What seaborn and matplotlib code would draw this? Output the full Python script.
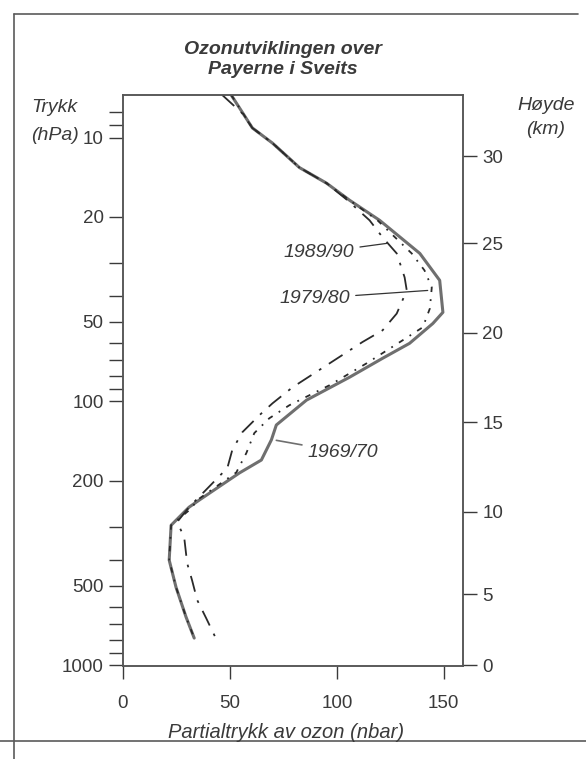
import numpy as np
import pandas as pd
import matplotlib
matplotlib.use("Agg")
import matplotlib.pyplot as plt
import matplotlib.ticker as mticker
from matplotlib.lines import Line2D
import seaborn as sns

# ----------------------------
# Data (pressure hPa, ozone partial pressure nbar)
# ----------------------------
p_1969 = [6.9, 9.2, 10.5, 13.0, 14.9, 17.3, 20.6, 27.5, 34.8, 46, 50.7, 60.3, 68.7, 81,
          99, 123, 140, 167, 187, 237, 252, 295, 400, 507, 658, 790]
o3_1969 = [50.6, 60.5, 69.9, 82.5, 95.2, 106, 120, 138.8, 148.1, 149.6, 144.9, 134, 121.4, 106,
           85.8, 71.7, 69.4, 64.7, 54.4, 35.6, 30.9, 22.5, 21.6, 24.8, 29.5, 33.3]

p_1979 = [6.9, 9.2, 10.5, 13.0, 14.9, 17.3, 20.6, 27.5, 31.9, 37, 44.5, 52.4, 58.7, 71.8,
          86.9, 103.5, 116, 132, 157, 186, 234, 259, 295, 400, 507, 658, 790]
o3_1979 = [50.6, 60.5, 69.9, 82.5, 95.2, 106, 119, 135, 141, 144.4, 143.5, 140.2, 130.8, 113.9,
           96.6, 77.8, 68.4, 61.4, 57.7, 53, 35.6, 30.9, 22.5, 21.6, 24.8, 29.5, 33.3]

p_1989 = [6.9, 8.1, 9.2, 10.5, 13.0, 14.9, 17.3, 20.6, 23.9, 27.5, 33.9, 38, 46.5, 53.8, 59.6,
          71.8, 88.6, 101.8, 112.9, 131, 153, 179, 205, 252, 287, 327, 411, 477, 567, 664, 797]
o3_1989 = [46.4, 55.8, 60.5, 69.9, 82.5, 95.2, 105, 115.3, 121.4, 128, 131.7, 132.7, 128, 121.4, 112,
           96.6, 79.2, 69.9, 63.8, 55.8, 51.1, 48.8, 41.7, 30.9, 25.3, 28.6, 30, 32.3, 34.7, 38.9, 43.6]

p_ticks = [10, 20, 50, 100, 200, 500, 1000]
p_minor = [8, 9, 30, 40, 60, 70, 80, 90, 300, 400, 600, 700, 800, 900]
km_labels = [0, 5, 10, 15, 20, 25, 30]
km_pressure = [1000, 540, 262, 120, 55, 25.2, 11.8]
x_ticks = [0, 50, 100, 150]

# ----------------------------
# Style
# ----------------------------
sns.set_style("ticks")
plt.rcParams['font.family'] = ['Liberation Sans', 'DejaVu Sans']
ink = "#3a3a3a"
plt.rcParams['text.color'] = ink
plt.rcParams['xtick.color'] = ink
plt.rcParams['ytick.color'] = ink
plt.rcParams['axes.edgecolor'] = "#555555"

W, H = 586, 759
fig = plt.figure(figsize=(W / 100, H / 100), dpi=100)
fig.patch.set_facecolor("white")

def fx(px):
    return px / W

def fy(py):
    return 1 - py / H

ax = fig.add_axes([fx(123), fy(666), fx(463) - fx(123), fy(95) - fy(666)])

df69 = pd.DataFrame({"o3": o3_1969, "p": p_1969})
df79 = pd.DataFrame({"o3": o3_1979, "p": p_1979})
df89 = pd.DataFrame({"o3": o3_1989, "p": p_1989})

sns.lineplot(data=df69, x="o3", y="p", sort=False, estimator=None, ax=ax,
             color="#6f6f6f", lw=2.2)
sns.lineplot(data=df79, x="o3", y="p", sort=False, estimator=None, ax=ax,
             color="#2a2a2a", lw=1.3, linestyle=(0, (3, 4, 1, 4)))
sns.lineplot(data=df89, x="o3", y="p", sort=False, estimator=None, ax=ax,
             color="#2a2a2a", lw=1.3, linestyle=(0, (9, 5, 1.5, 5)))

ax.set_yscale("log")
ax.set_ylim(1008, 6.9)
ax.set_xlim(0, 159)
ax.yaxis.set_major_locator(mticker.FixedLocator(p_ticks))
ax.yaxis.set_major_formatter(mticker.FixedFormatter([str(v) for v in p_ticks]))
ax.yaxis.set_minor_locator(mticker.FixedLocator(p_minor))
ax.yaxis.set_minor_formatter(mticker.NullFormatter())
ax.set_xticks(x_ticks)
ax.set_xticklabels([str(v) for v in x_ticks])
ax.set_xlabel("")
ax.set_ylabel("")
ax.tick_params(axis="y", which="both", length=10, width=1, direction="out", pad=4, labelsize=13.5)
ax.tick_params(axis="x", length=9, width=1, direction="out", pad=12, labelsize=13.5)
for s in ax.spines.values():
    s.set_linewidth(1.1)

ax2 = ax.twinx()
ax2.set_yscale("log")
ax2.set_ylim(ax.get_ylim())
ax2.yaxis.set_major_locator(mticker.FixedLocator(km_pressure))
ax2.yaxis.set_major_formatter(mticker.FixedFormatter([str(v) for v in km_labels]))
ax2.yaxis.set_minor_locator(mticker.NullLocator())
ax2.tick_params(axis="y", length=10, width=1, direction="out", pad=4, labelsize=13.5)
for s in ax2.spines.values():
    s.set_linewidth(1.1)

# curve labels
lab = dict(fontsize=14, style="italic", va="center")
arr = dict(arrowstyle="-", color="#333333", lw=0.9, shrinkA=2, shrinkB=0)
ax.annotate("1989/90", xy=(123.3, 25.2), xytext=(108, 27.3), ha="right", arrowprops=arr, **lab)
ax.annotate("1979/80", xy=(142.5, 38.0), xytext=(106, 40.7), ha="right", arrowprops=arr, **lab)
ax.annotate("1969/70", xy=(71.7, 140.6), xytext=(86.5, 156), ha="left",
            arrowprops=dict(arr, color="#6f6f6f", lw=1.2), **lab)

# titles and axis captions
fig.text(fx(283), fy(49), "Ozonutviklingen over", ha="center", va="center",
         fontsize=14, fontweight="bold", style="italic")
fig.text(fx(283), fy(69), "Payerne i Sveits", ha="center", va="center",
         fontsize=14, fontweight="bold", style="italic")
fig.text(fx(31), fy(108), "Trykk", ha="left", va="center", fontsize=14, style="italic")
fig.text(fx(31), fy(135), "(hPa)", ha="left", va="center", fontsize=14, style="italic")
fig.text(fx(546), fy(105), "Høyde", ha="center", va="center", fontsize=14, style="italic")
fig.text(fx(546), fy(130), "(km)", ha="center", va="center", fontsize=14, style="italic")
fig.text(fx(286), fy(733), "Partialtrykk av ozon (nbar)", ha="center", va="center",
         fontsize=14.5, style="italic")

# page frame lines from the scan
frame = "#5a5a5a"
fig.add_artist(Line2D([fx(14), fx(14)], [fy(14), fy(759)], color=frame, lw=1.2))
fig.add_artist(Line2D([fx(14), fx(578)], [fy(14), fy(14)], color=frame, lw=1.2))
fig.add_artist(Line2D([fx(0), fx(586)], [fy(741), fy(741)], color=frame, lw=1.2))

fig.savefig("out.png", dpi=100)
